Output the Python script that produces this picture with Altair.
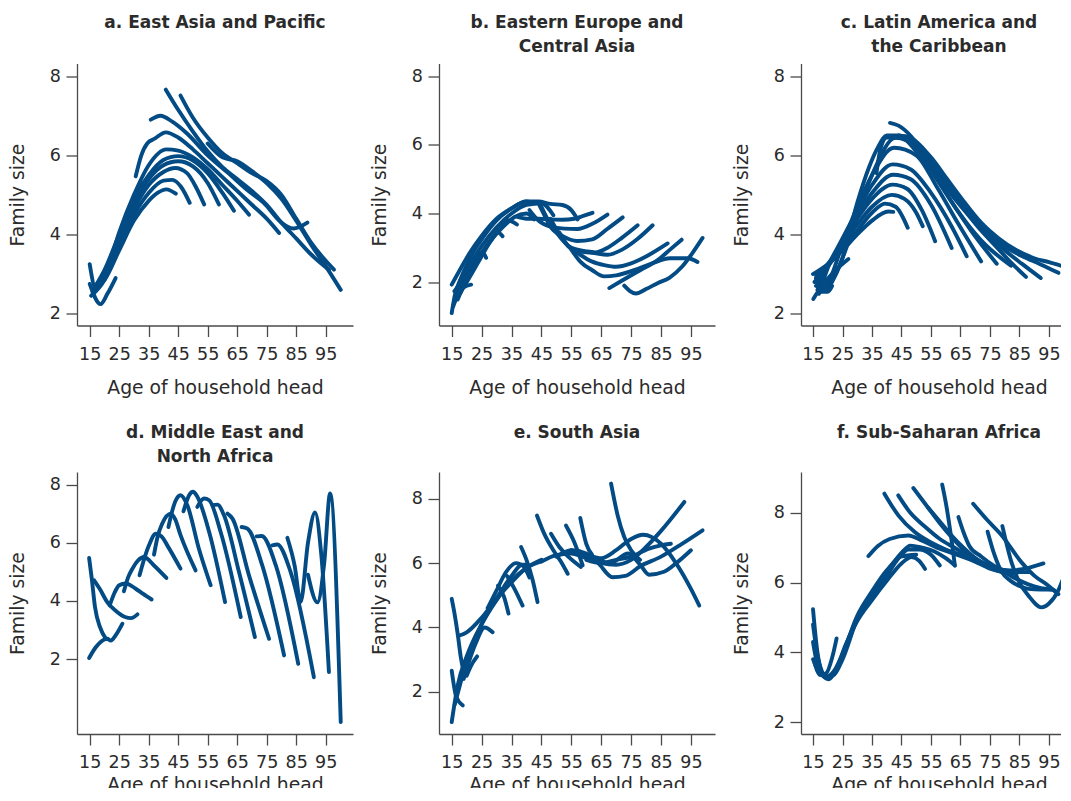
import altair as alt
import pandas as pd

X_TICKS = [15, 25, 35, 45, 55, 65, 75, 85, 95]
Y_TICKS = [2, 4, 6, 8]
LINE_COLOR = "#034b84"

TITLE_A = ["a. East Asia and Pacific"]
TITLE_B = ["b. Eastern Europe and", "Central Asia"]
TITLE_C = ["c. Latin America and", "the Caribbean"]
TITLE_D = ["d. Middle East and", "North Africa"]
TITLE_E = ["e. South Asia"]
TITLE_F = ["f. Sub-Saharan Africa"]

# ---- a. East Asia and Pacific: one list of ages and one of family sizes per cohort curve
A_AGES = [
    [15, 18.7, 21, 23.8],
    [15, 17, 20, 25, 30, 35, 38, 41, 44.2],
    [15.5, 20, 25, 30, 35, 40, 43, 46, 48.9],
    [16, 20, 25, 30, 35, 40, 44, 48, 51, 53.8],
    [16.5, 20, 25, 30, 35, 40, 45, 50, 55, 58.8],
    [17, 20, 25, 30, 35, 40, 45, 50, 55, 60, 63.9],
    [18, 22, 25, 30, 35, 41, 45, 50, 55, 60, 65, 69],
    [30.6, 32.5, 34.5, 37, 40.8, 45, 50, 55, 60, 65, 70, 75, 79.2],
    [35.7, 39, 43, 48, 55, 62, 68, 74, 80, 84, 88.8],
    [40.8, 45, 50, 55, 60, 65, 70, 75, 80, 85, 90, 96.1],
    [45.8, 50, 55, 60, 65, 70, 75, 80, 85, 90, 97.8],
    [55, 60, 65, 70, 75, 80, 85, 90, 95, 100.1],
]
A_SIZES = [
    [2.75, 2.24, 2.5, 2.9],
    [3.25, 2.65, 2.85, 3.6, 4.35, 4.85, 5.05, 5.14, 5.03],
    [2.45, 2.85, 3.75, 4.5, 5.05, 5.36, 5.38, 5.2, 4.8],
    [2.55, 2.95, 3.85, 4.65, 5.25, 5.58, 5.68, 5.55, 5.2, 4.76],
    [2.65, 3.05, 3.95, 4.8, 5.4, 5.75, 5.85, 5.72, 5.3, 4.76],
    [2.7, 3.1, 4.0, 4.9, 5.5, 5.88, 5.98, 5.87, 5.55, 5.05, 4.6],
    [2.75, 3.35, 4.05, 5.0, 5.75, 6.15, 6.12, 5.95, 5.65, 5.25, 4.85, 4.5],
    [5.47, 6.0, 6.3, 6.42, 6.58, 6.45, 6.15, 5.8, 5.45, 5.1, 4.75, 4.4, 4.04],
    [6.9, 7.0, 6.85, 6.55, 6.0, 5.55, 5.15, 4.8, 4.3, 4.15, 4.3],
    [7.66, 7.15, 6.6, 6.1, 5.7, 5.4, 5.1, 4.75, 4.3, 3.9, 3.5, 3.11],
    [7.51, 6.95, 6.45, 6.05, 5.8, 5.55, 5.35, 5.0, 4.4, 3.8, 3.11],
    [6.3, 5.95, 5.85, 5.6, 5.3, 4.9, 4.35, 3.75, 3.2, 2.6],
]

# ---- b. Eastern Europe and Central Asia
B_AGES = [
    [15, 16, 18, 20, 22, 25, 30, 35, 40, 43],
    [15, 18, 21, 25, 30, 35, 40, 44, 48, 52, 55, 57.1],
    [15.9, 18, 20, 25, 30, 35, 40, 45, 49],
    [15.5, 18, 21, 24, 25.5, 26.5],
    [17, 20, 24, 28, 30.5, 32],
    [18, 21, 25, 30, 34, 36.8],
    [20, 24, 28, 32, 36, 40, 42.6],
    [17, 19, 21.5],
    [37, 40, 44, 48, 52, 56, 59, 62.1],
    [41, 44, 48, 52.7, 57, 62, 67.1],
    [44, 46, 48.2, 52, 57, 62, 67, 72.2],
    [45, 47, 50, 55, 60, 63, 67, 72, 77.2],
    [48, 51, 54, 58, 62.7, 67, 72, 77, 82.2],
    [51, 54, 58, 62, 66, 70, 75, 80, 87.2],
    [67.7, 72, 78, 84, 88, 91.9],
    [55, 58, 62, 66, 70, 76, 82, 88, 94, 97.2],
    [72.7, 74.5, 76.6, 80, 84, 87.8, 92, 95.5, 98.9],
]
B_SIZES = [
    [1.1, 1.6, 2.1, 2.5, 2.85, 3.25, 3.8, 4.15, 4.35, 4.3],
    [1.93, 2.4, 2.85, 3.35, 3.85, 4.15, 4.35, 4.35, 4.28, 4.25, 4.1, 3.83],
    [1.74, 2.0, 2.35, 3.05, 3.6, 4.0, 4.25, 4.3, 3.95],
    [1.3, 1.85, 2.35, 2.8, 2.85, 2.71],
    [1.5, 2.1, 2.7, 3.2, 3.45, 3.34],
    [1.7, 2.2, 2.85, 3.45, 3.8, 3.68],
    [2.0, 2.6, 3.2, 3.6, 3.9, 4.0, 3.83],
    [1.55, 1.85, 1.93],
    [3.9, 3.85, 3.85, 3.83, 3.82, 3.85, 3.93, 4.02],
    [4.1, 3.8, 3.62, 3.56, 3.55, 3.7, 3.97],
    [4.3, 3.95, 3.6, 3.35, 3.2, 3.25, 3.55, 3.89],
    [4.2, 3.85, 3.45, 3.0, 2.9, 2.87, 3.0, 3.3, 3.66],
    [3.85, 3.4, 3.05, 2.9, 2.85, 2.8, 2.95, 3.25, 3.66],
    [3.45, 3.05, 2.8, 2.6, 2.5, 2.45, 2.55, 2.75, 3.13],
    [1.83, 2.05, 2.35, 2.65, 2.95, 3.24],
    [2.95, 2.6, 2.35, 2.17, 2.2, 2.35, 2.55, 2.7, 2.7, 2.59],
    [1.9, 1.75, 1.67, 1.8, 1.98, 2.13, 2.45, 2.85, 3.29],
]

# ---- c. Latin America and the Caribbean
C_AGES = [
    [15, 20, 25, 30, 35, 40.5, 42.2],
    [15.5, 20, 25, 30, 35, 39.4, 43, 47.1],
    [16, 20, 25, 30, 35, 41.7, 46, 50, 52.2],
    [16, 20, 25, 30, 35, 42, 47, 52, 56.4],
    [16.5, 20, 25, 30, 35, 42.2, 48, 55, 62],
    [17, 20, 25, 30, 35, 42, 48, 55, 62, 67.1],
    [17.5, 20, 25, 30, 35, 42.5, 50, 57, 64, 72],
    [18, 22, 26, 30, 35, 43, 50, 57, 64, 70, 77.3],
    [20, 25, 30, 34, 37, 40, 44, 50, 57, 64, 72, 82.1],
    [41.1, 44, 48, 52, 57, 62, 67, 72, 77, 82, 87.2],
    [36.5, 38, 40, 44, 50, 56, 62, 68, 74, 80, 86, 92.2],
    [44, 48, 52, 56, 62, 68, 74, 80, 86, 92, 98.2],
    [46, 50, 55, 60, 66, 72, 78, 84, 90, 95, 100.4],
    [15.1, 18, 22, 27],
    [16, 18, 20, 21.5],
]
C_SIZES = [
    [3.0, 3.25, 3.6, 4.0, 4.35, 4.58, 4.57],
    [2.8, 3.2, 3.65, 4.1, 4.55, 4.78, 4.7, 4.17],
    [2.9, 3.25, 3.75, 4.25, 4.7, 5.0, 4.9, 4.55, 4.21],
    [2.7, 3.2, 3.8, 4.4, 4.9, 5.26, 5.15, 4.6, 3.83],
    [2.6, 3.2, 3.85, 4.5, 5.05, 5.51, 5.4, 4.75, 3.66],
    [2.5, 3.15, 3.9, 4.6, 5.25, 5.77, 5.65, 5.05, 4.2, 3.45],
    [2.55, 2.75, 3.75, 4.7, 5.5, 6.19, 6.0, 5.2, 4.3, 3.32],
    [2.6, 2.9, 3.6, 4.5, 5.5, 6.44, 6.2, 5.4, 4.6, 3.95, 3.26],
    [2.6, 3.4, 4.8, 5.7, 6.2, 6.5, 6.5, 6.1, 5.4, 4.6, 3.85, 3.21],
    [6.82, 6.75, 6.5, 6.1, 5.55, 5.0, 4.55, 4.1, 3.7, 3.3, 2.93],
    [5.55, 6.2, 6.45, 6.45, 6.2, 5.7, 5.1, 4.5, 4.0, 3.6, 3.25, 2.9],
    [6.5, 6.45, 6.2, 5.8, 5.15, 4.55, 4.05, 3.7, 3.45, 3.25, 3.03],
    [6.45, 6.3, 5.95, 5.45, 4.85, 4.3, 3.9, 3.6, 3.4, 3.3, 3.18],
    [2.37, 2.7, 3.05, 3.38],
    [3.0, 2.55, 2.55, 2.7],
]

# ---- d. Middle East and North Africa
D_AGES = [
    [14.8, 15.7, 16.8, 18.5, 20.5],
    [14.8, 17, 19.3, 21, 22.1, 24, 26.1],
    [16.5, 18.5, 21, 24, 27, 29, 31.2],
    [21.8, 23.5, 25, 27.2, 30.6, 33, 36],
    [26.6, 28, 29.5, 31.5, 33.4, 36.8, 41],
    [31.9, 33.5, 35.1, 37.4, 39.5, 41.3, 45.8],
    [36.8, 38, 39.6, 42.5, 44, 45.8, 50.9],
    [41.7, 43, 44.2, 45.8, 48.1, 52, 56],
    [46.8, 48.7, 50, 51.5, 55.5, 60.9],
    [51.5, 53.8, 55.5, 59.4, 66.2],
    [56.6, 58.3, 60.5, 65.6, 71],
    [61.7, 63.4, 69, 75.8],
    [66.5, 68.4, 73.5, 80.9],
    [71.6, 73.3, 78.1, 85.7],
    [76.9, 78.6, 83.1, 91],
    [82, 84.5, 86.5, 89, 91.4, 93.5, 96.1],
    [89, 92.2, 94.5, 96.5, 100.1],
]
D_SIZES = [
    [5.48, 4.77, 3.79, 3.1, 2.7],
    [2.04, 2.4, 2.64, 2.7, 2.64, 2.85, 3.22],
    [4.71, 4.4, 3.95, 3.65, 3.45, 3.41, 3.54],
    [3.85, 4.3, 4.54, 4.6, 4.42, 4.25, 4.05],
    [4.33, 4.8, 5.11, 5.4, 5.51, 5.22, 4.79],
    [4.88, 5.45, 5.91, 6.31, 6.2, 5.91, 5.11],
    [5.59, 6.2, 6.66, 7.0, 6.8, 6.26, 5.05],
    [6.54, 7.1, 7.46, 7.63, 7.29, 5.8, 4.54],
    [7.08, 7.63, 7.75, 7.58, 6.37, 3.96],
    [7.23, 7.52, 7.46, 6.37, 3.45],
    [7.29, 7.31, 6.95, 5.0, 2.76],
    [7.0, 6.83, 4.88, 2.7],
    [6.54, 6.49, 5.22, 2.13],
    [6.22, 6.23, 5.22, 1.84],
    [5.91, 5.94, 5.0, 1.38],
    [6.17, 5.2, 3.96, 6.0, 7.04, 5.6, 1.56],
    [4.9, 3.95, 5.3, 7.69, -0.16],
]

# ---- e. South Asia
E_AGES = [
    [15, 17, 20, 25, 30, 35, 40, 45],
    [15, 16.5, 18.7],
    [15, 16, 17, 18, 19],
    [17.6, 20, 25, 30, 35, 40, 45],
    [16, 18, 20, 22, 25, 30, 35, 38.5, 40],
    [19, 21, 23, 26, 28.7],
    [20, 22, 23.5],
    [30.5, 32.5, 34],
    [33.5, 36, 38.7],
    [38.2, 40, 42, 43.7],
    [43.5, 46, 49, 51.5, 53.8],
    [48.2, 51, 54, 58.2],
    [53.2, 56, 58.8],
    [58, 60, 62],
    [68.3, 70.5, 72.7, 75, 78],
    [45, 50, 55, 60, 65, 70, 75, 80, 85, 92.8],
    [50, 55, 60, 64, 68.8, 73, 78, 85, 92, 98.9],
    [55, 60, 65, 70, 75, 79, 85, 90, 95, 97.8],
    [60, 65, 70, 75, 81, 85, 88.3],
    [55, 62, 68, 74, 78, 81, 86, 90.5, 95],
    [27, 30, 33, 36.5, 39, 41],
]
E_SIZES = [
    [1.06, 2.2, 3.1, 4.1, 4.85, 5.45, 5.85, 6.1],
    [2.66, 1.85, 1.58],
    [4.89, 4.4, 3.8, 3.1, 2.6],
    [3.75, 3.85, 4.3, 4.9, 5.4, 5.85, 6.05],
    [1.6, 2.3, 3.0, 3.5, 4.1, 4.9, 5.6, 5.95, 5.95],
    [2.4, 3.0, 3.5, 4.0, 3.85],
    [2.5, 2.9, 3.1],
    [5.3, 4.95, 4.43],
    [5.6, 5.2, 4.68],
    [6.5, 6.1, 5.5, 4.79],
    [7.48, 6.9, 6.4, 6.05, 5.67],
    [6.91, 6.5, 6.2, 5.88],
    [7.17, 6.65, 5.93],
    [7.4, 6.6, 6.25],
    [8.47, 7.48, 6.81, 6.4, 6.1],
    [6.05, 6.25, 6.3, 6.15, 6.0, 5.95, 6.1, 6.5, 7.0, 7.9],
    [6.2, 6.4, 6.3, 6.0, 5.56, 5.6, 5.9, 6.2, 6.6, 7.02],
    [6.35, 6.25, 6.15, 6.4, 6.75, 6.88, 6.6, 6.0, 5.2, 4.68],
    [6.1, 6.0, 6.1, 6.2, 6.45, 6.55, 6.6],
    [6.4, 6.2, 6.0, 6.3, 5.95, 5.64, 5.73, 6.03, 6.4],
    [4.6, 5.15, 5.7, 6.0, 5.9, 5.55],
]

# ---- f. Sub-Saharan Africa
F_AGES = [
    [15, 16.5, 18, 20.2, 23, 26, 30, 35, 40, 45, 48.4, 51, 53],
    [15, 17, 19.5, 22, 25, 30, 35, 40, 44, 47.3, 51, 55, 58],
    [15, 17, 20, 23, 26, 30, 35, 40, 45, 48, 52, 56, 60, 63.1],
    [15, 17, 19.5, 22, 25, 30, 35, 40, 45, 50],
    [15.5, 17.5, 19.5, 21.5, 23],
    [33.8, 37, 41, 47.3, 52, 57, 62, 67, 72, 77, 82, 87, 93.1],
    [39.2, 44, 49.6, 55, 60, 65, 70, 75, 80, 84],
    [43.9, 48, 53, 58, 63, 68, 73, 78, 83, 88],
    [49, 53.9, 58, 62, 66, 70, 74, 78, 82],
    [58.8, 60, 61.5, 63.1],
    [54, 58, 62, 66, 70, 74.4, 79],
    [64.3, 66, 68, 72, 76, 80, 84, 88, 92, 96],
    [69.3, 74, 79, 85.7, 90, 94.8, 97],
    [74.2, 76.5, 79, 82, 85, 88, 92, 96, 98.2],
    [79.2, 82.3, 85, 88, 92.5, 95, 98, 100.4],
]
F_SIZES = [
    [5.24, 4.0, 3.45, 3.23, 3.55, 4.2, 4.9, 5.5, 6.05, 6.55, 6.73, 6.62, 6.39],
    [4.8, 3.7, 3.3, 3.35, 3.8, 4.95, 5.6, 6.2, 6.7, 6.95, 6.95, 6.8, 6.49],
    [4.3, 3.5, 3.25, 3.5, 4.15, 5.0, 5.7, 6.3, 6.85, 7.06, 7.0, 6.9, 6.7, 6.49],
    [3.8, 3.45, 3.3, 3.45, 3.95, 5.05, 5.75, 6.35, 6.75, 6.8],
    [3.7, 3.35, 3.4, 3.85, 4.4],
    [6.76, 7.05, 7.25, 7.35, 7.2, 7.0, 6.85, 6.7, 6.55, 6.4, 6.35, 6.4, 6.55],
    [8.55, 7.92, 7.44, 7.15, 6.95, 6.8, 6.6, 6.4, 6.3, 6.25],
    [8.5, 8.0, 7.6, 7.25, 7.0, 6.75, 6.55, 6.4, 6.3, 6.3],
    [8.71, 8.16, 7.7, 7.3, 6.95, 6.7, 6.5, 6.35, 6.25],
    [8.81, 8.3, 7.5, 6.49],
    [8.15, 7.75, 7.35, 7.0, 6.7, 6.45, 6.3],
    [7.88, 7.45, 7.05, 6.75, 6.5, 6.3, 6.1, 5.95, 5.85, 5.8],
    [8.26, 7.8, 7.35, 6.58, 6.2, 5.91, 5.75],
    [7.46, 6.8, 6.3, 6.05, 5.9, 5.82, 5.8, 5.8, 5.67],
    [7.62, 6.58, 6.0, 5.63, 5.29, 5.4, 5.75, 6.25],
]


def build_frame(key, ages_list, sizes_list):
    rows = []
    for i, (ages, sizes) in enumerate(zip(ages_list, sizes_list)):
        for a, s in zip(ages, sizes):
            rows.append({"curve": f"{key}{i:02d}", "age": a, "size": s})
    return pd.DataFrame(rows)


FONT = "DejaVu Sans"
TEXT = "#2b2b2b"
W, H = 276, 262


def panel(key, ages, sizes, title, xdom, ydom, offset, xtitle_pad):
    df = build_frame(key, ages, sizes)
    return (
        alt.Chart(df)
        .mark_line(
            color=LINE_COLOR,
            strokeWidth=3.9,
            strokeCap="round",
            strokeJoin="round",
            interpolate="monotone",
        )
        .encode(
            x=alt.X(
                "age:Q",
                scale=alt.Scale(domain=xdom, nice=False, zero=False),
                axis=alt.Axis(
                    values=X_TICKS,
                    title="Age of household head",
                    titlePadding=xtitle_pad,
                ),
            ),
            y=alt.Y(
                "size:Q",
                scale=alt.Scale(domain=ydom, nice=False, zero=False),
                axis=alt.Axis(values=Y_TICKS, title="Family size"),
            ),
            detail="curve:N",
        )
        .properties(
            width=W,
            height=H,
            title=alt.TitleParams(
                text=title,
                font=FONT,
                fontSize=17,
                fontWeight="bold",
                color=TEXT,
                anchor="middle",
                frame="group",
                offset=offset,
                lineHeight=24,
            ),
        )
    )


XA = [10.7, 104.26]
XB = [10.75, 103.05]
XC = [10.93, 104.5]

pa = panel("a", A_AGES, A_SIZES, TITLE_A, XA, [1.70, 8.32], 32, 15.5)
pb = panel("b", B_AGES, B_SIZES, TITLE_B, XB, [0.74, 8.37], 8, 15.5)
pc = panel("c", C_AGES, C_SIZES, TITLE_C, XC, [1.70, 8.32], 8, 15.5)
pd_ = panel("d", D_AGES, D_SIZES, TITLE_D, XA, [-0.57, 8.43], 6.4, 4)
pe = panel("e", E_AGES, E_SIZES, TITLE_E, XB, [0.69, 8.83], 30.4, 4)
pf = panel("f", F_AGES, F_SIZES, TITLE_F, XC, [1.66, 9.17], 30.4, 4)

chart = (
    alt.concat(
        pa, pb, pc, pd_, pe, pf,
        columns=3,
        spacing={"row": 146.5, "column": 86},
        bounds="flush",
    )
    .properties(padding={"left": 0, "top": 5.5, "right": -16.5, "bottom": -7})
    .configure(background="white")
    .configure_view(strokeWidth=0)
    .configure_axis(
        grid=False,
        domainColor="#4a4a4a",
        tickColor="#4a4a4a",
        domainWidth=1.3,
        tickWidth=1.3,
        tickSize=11,
        labelFont=FONT,
        labelFontSize=17.5,
        labelColor=TEXT,
        titleFont=FONT,
        titleFontSize=18.8,
        titleFontWeight="normal",
        titleColor=TEXT,
        labelOverlap=False,
        labelFlush=False,
    )
    .configure_axisX(labelPadding=8.5)
    .configure_axisY(labelPadding=5.5, titlePadding=22)
)

chart.save("out.html", embed_options={"renderer": "svg", "actions": False})
